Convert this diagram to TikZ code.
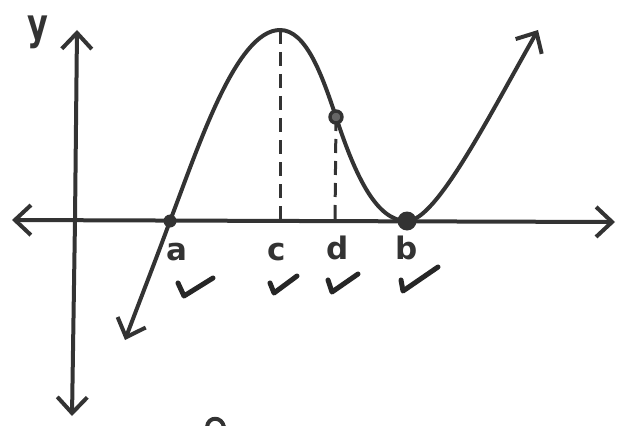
\documentclass[tikz,border=0pt]{standalone}
\usepackage{fontspec}
\setmainfont{DejaVu Sans}
\usetikzlibrary{arrows.meta}
\tikzset{
  ink/.style={draw=black!80, line width=4pt, line cap=round, line join=round},
  barb/.style={-{Straight Barb[length=16pt,width=30pt,line width=4pt]}},
  guide/.style={draw=black!80, line width=3pt, dash pattern=on 14pt off 8pt},
  lbl/.style={font=\fontsize{31}{31}\selectfont\bfseries, text=black!80, inner sep=0pt},
  tick/.style={draw=black!85, line width=5pt, line cap=round, line join=round},
  dot/.style={circle, fill=black!80, inner sep=0pt}
}
\begin{document}
\begin{tikzpicture}[x=1pt,y=-1pt]
\useasboundingbox (0,0) rectangle (620,425);
% axes
\coordinate (xl) at (12,220);
\coordinate (xr) at (615,222);
\coordinate (yt) at (77,30);
\coordinate (yb) at (72,416);
\draw[ink, barb] (300,221) coordinate (xc) -- (xl);
\draw[ink, barb] (xc) -- (xr);
\draw[ink, barb] (75,220) coordinate (o) -- (yt);
\draw[ink, barb] (o) -- (yb);
\node[lbl, font=\fontsize{32}{32}\selectfont\bfseries, yscale=1.35] (ylab) at (38,32) {y};
% key points
\coordinate (s) at (125,340);
\coordinate (pa) at (170,221);
\coordinate (pc) at (280,30);
\coordinate (pd) at (336,117);
\coordinate (pb) at (407,221);
\coordinate (e) at (538,30);
\coordinate (fc) at (280,220);
\coordinate (fd) at (335,220);
% curve
\draw[ink, barb] (pa) .. controls (155,262) and (140,300) .. (s);
\draw[ink, barb] (pa) .. controls (198,148) and (236,30) .. (pc)
  .. controls (306,30) and (322,75) .. (pd)
  .. controls (356,178) and (377,221) .. (pb)
  .. controls (436,221) and (488,118) .. (e);
% dashed guides
\draw[guide] (pc) -- (fc);
\draw[guide] (pd) -- (fd);
% dots
\node[dot, minimum size=13pt] (da) at (pa) {};
\node[circle, draw=black!80, fill=black!60, line width=3.4pt, minimum size=12pt, inner sep=0pt] (dd) at (pd) {};
\node[dot, minimum size=19pt] (db) at (pb) {};
% labels
\node[lbl] (la) at (177,252) {a};
\node[lbl] (lc) at (277,252) {c};
\node[lbl] (ld) at (338,248) {d};
\node[lbl] (lb) at (407,248) {b};
% check marks
\draw[tick] (178,283) -- (184,296) -- (213,278);
\draw[tick] (270,283) -- (274,293) -- (297,276);
\draw[tick] (328,280) -- (332,292) -- (358,274);
\draw[tick] (401,280) -- (403,291) -- (438,267);
% partial mark at the bottom edge
\draw[ink] (207,427) .. controls (208,416) and (222,416) .. (224,427);
\end{tikzpicture}
\end{document}
